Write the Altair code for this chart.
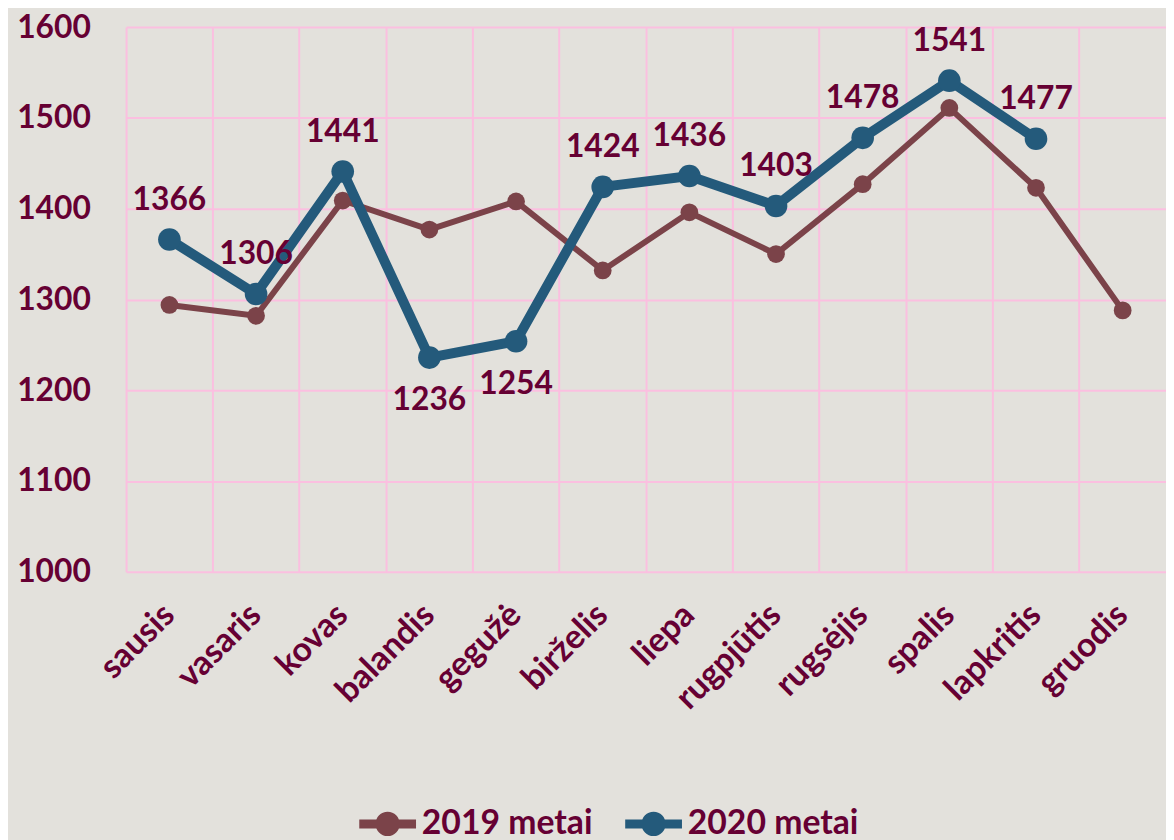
import altair as alt
import pandas as pd

months = ["sausis", "vasaris", "kovas", "balandis", "gegužė", "birželis",
          "liepa", "rugpjūtis", "rugsėjis", "spalis", "lapkritis", "gruodis"]
v2019 = [1294, 1282, 1409, 1377, 1408, 1332, 1396, 1350, 1427, 1511, 1423, 1288]
v2020 = [1366, 1306, 1441, 1236, 1254, 1424, 1436, 1403, 1478, 1541, 1477, None]
series = ["2019 metai", "2020 metai"]
colors = ["#7B4349", "#245A7B"]
line_widths = [6, 10]
point_sizes = [320, 520]
y_ticks = [1000, 1100, 1200, 1300, 1400, 1500, 1600]
labels_below = ["balandis", "gegužė"]

rows = []
for s, vals in zip(series, [v2019, v2020]):
    for m, v in zip(months, vals):
        if v is not None:
            rows.append({"month": m, "series": s, "value": v})
df = pd.DataFrame(rows)

FONT = "Lato"
TXT = "#660033"
GRID = "#FBBFE0"

x_enc = alt.X("month:N", sort=months, title=None,
              scale=alt.Scale(type="band", paddingInner=0, paddingOuter=0),
              axis=alt.Axis(bandPosition=0, labelAngle=-45, labelAlign="right",
                            labelBaseline="middle", labelPadding=38, ticks=False, domain=False,
                            grid=True, gridColor=GRID, gridWidth=2,
                            labelFont=FONT, labelFontSize=34, labelFontWeight="bold",
                            labelColor=TXT))
y_enc = alt.Y("value:Q", title=None,
              scale=alt.Scale(domain=[1000, 1600], nice=False),
              axis=alt.Axis(values=y_ticks, format="d",
                            ticks=False, domain=False, labelPadding=36,
                            grid=True, gridColor=GRID, gridWidth=2,
                            labelFont=FONT, labelFontSize=32, labelFontWeight="bold",
                            labelColor=TXT))

sym = ("M-1,-0.35 L3.4,-0.35 L3.4,0.35 L-1,0.35 Z "
       "M2.14,0 A0.94,0.94 0 1,1 0.26,0 A0.94,0.94 0 1,1 2.14,0 Z")

legend = alt.Legend(title=None, orient="none", direction="horizontal",
                    legendX=231, legendY=786, symbolType=sym, symbolSize=676,
                    symbolStrokeWidth=0, labelOffset=33, columnPadding=28,
                    labelLimit=500,
                    labelFont=FONT, labelFontSize=34, labelFontWeight="bold",
                    labelColor=TXT, padding=0)

color_scale = alt.Scale(domain=series, range=colors)

layers = []
for s, c, lw, ps in zip(series, colors, line_widths, point_sizes):
    b = alt.Chart(df).transform_filter(alt.datum.series == s)
    layers.append(b.mark_line(strokeWidth=lw, color=c).encode(x=x_enc, y=y_enc))
    layers.append(b.mark_circle(size=ps, opacity=1).encode(
        x=x_enc, y=y_enc, color=alt.Color("series:N", scale=color_scale, legend=legend)))

lab = alt.Chart(df).transform_filter(alt.datum.series == series[1])
text_style = dict(font=FONT, fontSize=32, fontWeight="bold", color=TXT, baseline="middle")
layers.append(lab.transform_filter(
    ~alt.FieldOneOfPredicate(field="month", oneOf=labels_below)
).mark_text(dy=-40, **text_style).encode(x=x_enc, y=y_enc, text="value:Q"))
layers.append(lab.transform_filter(
    alt.FieldOneOfPredicate(field="month", oneOf=labels_below)
).mark_text(dy=43, **text_style).encode(x=x_enc, y=y_enc, text="value:Q"))

chart = alt.layer(*layers).properties(
    width=1048, height=549,
    padding={"left": 8, "top": 0, "right": 0, "bottom": 0},
    background="#E3E1DC",
).configure_view(stroke=None)

chart.save("out.html", embed_options={"renderer": "svg", "actions": False})
